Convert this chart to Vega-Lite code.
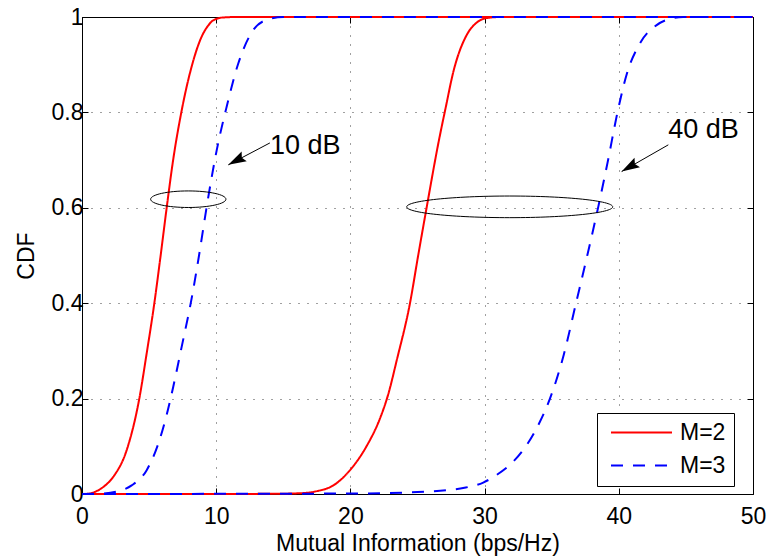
{
  "$schema": "https://vega.github.io/schema/vega-lite/v6.json",
  "width": 671,
  "height": 477,
  "autosize": "none",
  "padding": {"left": 82, "top": 17, "right": 16, "bottom": 62},
  "background": "white",
  "config": {
    "font": "Liberation Sans",
    "view": {"stroke": "black", "strokeWidth": 1},
    "axis": {
      "domain": false,
      "labelFlush": false,
      "tickColor": "black",
      "tickSize": -6,
      "tickWidth": 1,
      "labelColor": "black",
      "labelFontSize": 23,
      "titleColor": "black",
      "titleFontSize": 23,
      "titleFontWeight": "normal",
      "gridColor": "black",
      "gridDash": [1, 8],
      "gridOpacity": 0.75,
      "gridWidth": 1
    }
  },
  "datasets": {
    "curves": [
      {"M": "M=2", "snr": "10 dB", "x": 0, "y": 0},
      {"M": "M=2", "snr": "10 dB", "x": 0.5, "y": 0.0005},
      {"M": "M=2", "snr": "10 dB", "x": 0.84, "y": 0.003},
      {"M": "M=2", "snr": "10 dB", "x": 1.5, "y": 0.013},
      {"M": "M=2", "snr": "10 dB", "x": 2.33, "y": 0.036},
      {"M": "M=2", "snr": "10 dB", "x": 3.33, "y": 0.092},
      {"M": "M=2", "snr": "10 dB", "x": 4.27, "y": 0.2},
      {"M": "M=2", "snr": "10 dB", "x": 4.82, "y": 0.295},
      {"M": "M=2", "snr": "10 dB", "x": 5.39, "y": 0.4},
      {"M": "M=2", "snr": "10 dB", "x": 5.86, "y": 0.5},
      {"M": "M=2", "snr": "10 dB", "x": 6.31, "y": 0.6},
      {"M": "M=2", "snr": "10 dB", "x": 6.79, "y": 0.7},
      {"M": "M=2", "snr": "10 dB", "x": 7.4, "y": 0.8},
      {"M": "M=2", "snr": "10 dB", "x": 8.17, "y": 0.896},
      {"M": "M=2", "snr": "10 dB", "x": 8.92, "y": 0.959},
      {"M": "M=2", "snr": "10 dB", "x": 9.4, "y": 0.982},
      {"M": "M=2", "snr": "10 dB", "x": 9.78, "y": 0.993},
      {"M": "M=2", "snr": "10 dB", "x": 10.5, "y": 0.999},
      {"M": "M=2", "snr": "10 dB", "x": 11.5, "y": 1},
      {"M": "M=2", "snr": "10 dB", "x": 50, "y": 1},
      {"M": "M=2", "snr": "40 dB", "x": 0, "y": 0},
      {"M": "M=2", "snr": "40 dB", "x": 14, "y": 0.0003},
      {"M": "M=2", "snr": "40 dB", "x": 16.2, "y": 0.0015},
      {"M": "M=2", "snr": "40 dB", "x": 17.5, "y": 0.006},
      {"M": "M=2", "snr": "40 dB", "x": 18.73, "y": 0.018},
      {"M": "M=2", "snr": "40 dB", "x": 19.97, "y": 0.05},
      {"M": "M=2", "snr": "40 dB", "x": 21.2, "y": 0.1},
      {"M": "M=2", "snr": "40 dB", "x": 22.2, "y": 0.158},
      {"M": "M=2", "snr": "40 dB", "x": 22.83, "y": 0.21},
      {"M": "M=2", "snr": "40 dB", "x": 23.45, "y": 0.28},
      {"M": "M=2", "snr": "40 dB", "x": 24.44, "y": 0.4},
      {"M": "M=2", "snr": "40 dB", "x": 25.05, "y": 0.5},
      {"M": "M=2", "snr": "40 dB", "x": 25.69, "y": 0.602},
      {"M": "M=2", "snr": "40 dB", "x": 26.6, "y": 0.742},
      {"M": "M=2", "snr": "40 dB", "x": 27.1, "y": 0.81},
      {"M": "M=2", "snr": "40 dB", "x": 27.67, "y": 0.885},
      {"M": "M=2", "snr": "40 dB", "x": 28.66, "y": 0.962},
      {"M": "M=2", "snr": "40 dB", "x": 29.4, "y": 0.988},
      {"M": "M=2", "snr": "40 dB", "x": 30.2, "y": 0.998},
      {"M": "M=2", "snr": "40 dB", "x": 31.2, "y": 1},
      {"M": "M=2", "snr": "40 dB", "x": 50, "y": 1},
      {"M": "M=3", "snr": "10 dB", "x": 0, "y": 0},
      {"M": "M=3", "snr": "10 dB", "x": 1.5, "y": 0.001},
      {"M": "M=3", "snr": "10 dB", "x": 2.58, "y": 0.005},
      {"M": "M=3", "snr": "10 dB", "x": 3.7, "y": 0.018},
      {"M": "M=3", "snr": "10 dB", "x": 4.82, "y": 0.05},
      {"M": "M=3", "snr": "10 dB", "x": 5.69, "y": 0.106},
      {"M": "M=3", "snr": "10 dB", "x": 6.31, "y": 0.166},
      {"M": "M=3", "snr": "10 dB", "x": 6.8, "y": 0.225},
      {"M": "M=3", "snr": "10 dB", "x": 7.43, "y": 0.309},
      {"M": "M=3", "snr": "10 dB", "x": 8.17, "y": 0.41},
      {"M": "M=3", "snr": "10 dB", "x": 8.72, "y": 0.5},
      {"M": "M=3", "snr": "10 dB", "x": 9.29, "y": 0.602},
      {"M": "M=3", "snr": "10 dB", "x": 10.04, "y": 0.721},
      {"M": "M=3", "snr": "10 dB", "x": 10.78, "y": 0.812},
      {"M": "M=3", "snr": "10 dB", "x": 11.65, "y": 0.903},
      {"M": "M=3", "snr": "10 dB", "x": 12.77, "y": 0.973},
      {"M": "M=3", "snr": "10 dB", "x": 13.76, "y": 0.994},
      {"M": "M=3", "snr": "10 dB", "x": 15, "y": 1},
      {"M": "M=3", "snr": "10 dB", "x": 50, "y": 1},
      {"M": "M=3", "snr": "40 dB", "x": 0, "y": 0},
      {"M": "M=3", "snr": "40 dB", "x": 20, "y": 0.001},
      {"M": "M=3", "snr": "40 dB", "x": 25, "y": 0.004},
      {"M": "M=3", "snr": "40 dB", "x": 27.17, "y": 0.008},
      {"M": "M=3", "snr": "40 dB", "x": 28.5, "y": 0.013},
      {"M": "M=3", "snr": "40 dB", "x": 29.9, "y": 0.024},
      {"M": "M=3", "snr": "40 dB", "x": 30.9, "y": 0.04},
      {"M": "M=3", "snr": "40 dB", "x": 32.14, "y": 0.068},
      {"M": "M=3", "snr": "40 dB", "x": 33.26, "y": 0.108},
      {"M": "M=3", "snr": "40 dB", "x": 34.13, "y": 0.152},
      {"M": "M=3", "snr": "40 dB", "x": 34.87, "y": 0.2},
      {"M": "M=3", "snr": "40 dB", "x": 35.9, "y": 0.292},
      {"M": "M=3", "snr": "40 dB", "x": 36.81, "y": 0.4},
      {"M": "M=3", "snr": "40 dB", "x": 37.65, "y": 0.5},
      {"M": "M=3", "snr": "40 dB", "x": 38.47, "y": 0.602},
      {"M": "M=3", "snr": "40 dB", "x": 39.2, "y": 0.7},
      {"M": "M=3", "snr": "40 dB", "x": 39.9, "y": 0.8},
      {"M": "M=3", "snr": "40 dB", "x": 40.59, "y": 0.88},
      {"M": "M=3", "snr": "40 dB", "x": 41.58, "y": 0.945},
      {"M": "M=3", "snr": "40 dB", "x": 42.82, "y": 0.983},
      {"M": "M=3", "snr": "40 dB", "x": 43.8, "y": 0.996},
      {"M": "M=3", "snr": "40 dB", "x": 44.8, "y": 1},
      {"M": "M=3", "snr": "40 dB", "x": 50, "y": 1}
    ],
    "arrows": [
      {"x": 14.0, "y": 0.736, "x2": 10.9, "y2": 0.69},
      {"x": 43.69, "y": 0.732, "x2": 40.21, "y2": 0.676}
    ],
    "labels": [
      {"label": "10 dB", "x": 14.01, "y": 0.7125},
      {"label": "40 dB", "x": 43.69, "y": 0.7457}
    ]
  },
  "layer": [
    {
      "layer": [
        {
          "data": {"name": "curves"},
          "mark": {"type": "line", "strokeWidth": 2, "interpolate": "monotone"},
          "encoding": {
            "x": {
              "field": "x", "type": "quantitative",
              "scale": {"domain": [0, 50], "nice": false, "zero": false},
              "axis": {"values": [0, 10, 20, 30, 40, 50], "grid": true, "labelPadding": 17, "title": "Mutual Information (bps/Hz)", "titlePadding": 4}
            },
            "y": {
              "field": "y", "type": "quantitative",
              "scale": {"domain": [0, 1], "nice": false},
              "axis": {"values": [0, 0.2, 0.4, 0.6, 0.8, 1], "format": "~g", "grid": true, "labelPadding": 5, "title": "CDF", "titlePadding": 13}
            },
            "color": {
              "field": "M", "type": "nominal",
              "scale": {"domain": ["M=2", "M=3"], "range": ["#ff0000", "#0000ff"]},
              "legend": {
                "title": null,
                "orient": "none",
                "legendX": 515,
                "legendY": 396,
                "direction": "vertical",
                "strokeColor": "black",
                "fillColor": "white",
                "padding": 8,
                "symbolType": "stroke",
                "symbolSize": 3721,
                "symbolStrokeWidth": 2,
                "symbolOffset": 5,
                "clipHeight": 23,
                "rowPadding": 9,
                "labelFontSize": 23,
                "labelColor": "black",
                "labelOffset": 7
              }
            },
            "strokeDash": {
              "field": "M", "type": "nominal",
              "scale": {"domain": ["M=2", "M=3"], "range": [[1, 0], [12, 10]]},
              "legend": {
                "title": null,
                "orient": "none",
                "legendX": 515,
                "legendY": 396,
                "direction": "vertical",
                "strokeColor": "black",
                "fillColor": "white",
                "padding": 8,
                "symbolType": "stroke",
                "symbolSize": 3721,
                "symbolStrokeWidth": 2,
                "symbolOffset": 5,
                "clipHeight": 23,
                "rowPadding": 9,
                "labelFontSize": 23,
                "labelColor": "black",
                "labelOffset": 7
              }
            },
            "detail": {"field": "snr", "type": "nominal"}
          }
        },
        {
          "data": {"values": [{"x": 7.92, "y": 0.618}]},
          "mark": {"type": "point", "shape": "M-1,0C-1,-0.121,-0.552,-0.22,0,-0.22C0.552,-0.22,1,-0.121,1,0C1,0.121,0.552,0.22,0,0.22C-0.552,0.22,-1,0.121,-1,0Z", "size": 5670, "filled": false, "stroke": "black", "strokeWidth": 1, "opacity": 1},
          "encoding": {
            "x": {"field": "x", "type": "quantitative"},
            "y": {"field": "y", "type": "quantitative"}
          }
        },
        {
          "data": {"values": [{"x": 31.87, "y": 0.602}]},
          "mark": {"type": "point", "shape": "M-1,0C-1,-0.058,-0.552,-0.105,0,-0.105C0.552,-0.105,1,-0.058,1,0C1,0.058,0.552,0.105,0,0.105C-0.552,0.105,-1,0.058,-1,0Z", "size": 42436, "filled": false, "stroke": "black", "strokeWidth": 1, "opacity": 1},
          "encoding": {
            "x": {"field": "x", "type": "quantitative"},
            "y": {"field": "y", "type": "quantitative"}
          }
        },
        {
          "data": {"name": "arrows"},
          "mark": {"type": "rule", "color": "black", "strokeWidth": 1},
          "encoding": {
            "x": {"field": "x", "type": "quantitative"},
            "y": {"field": "y", "type": "quantitative"},
            "x2": {"field": "x2"},
            "y2": {"field": "y2"}
          }
        },
        {
          "data": {"values": [{"x": 10.9, "y": 0.69}]},
          "mark": {"type": "point", "shape": "M0,0L-2,-0.61L-1.7,0L-2,0.61Z", "size": 324, "filled": true, "color": "black", "opacity": 1, "angle": 152.2},
          "encoding": {
            "x": {"field": "x", "type": "quantitative"},
            "y": {"field": "y", "type": "quantitative"}
          }
        },
        {
          "data": {"values": [{"x": 40.21, "y": 0.676}]},
          "mark": {"type": "point", "shape": "M0,0L-2,-0.61L-1.7,0L-2,0.61Z", "size": 324, "filled": true, "color": "black", "opacity": 1, "angle": 150.2},
          "encoding": {
            "x": {"field": "x", "type": "quantitative"},
            "y": {"field": "y", "type": "quantitative"}
          }
        },
        {
          "data": {"name": "labels"},
          "mark": {"type": "text", "align": "left", "baseline": "alphabetic", "fontSize": 27, "color": "black"},
          "encoding": {
            "x": {"field": "x", "type": "quantitative"},
            "y": {"field": "y", "type": "quantitative"},
            "text": {"field": "label", "type": "nominal"}
          }
        }
      ]
    },
    {
      "data": {"values": [{"x": 0, "y": 0}]},
      "mark": {"type": "point", "opacity": 0},
      "encoding": {
        "x": {
          "field": "x", "type": "quantitative",
          "scale": {"domain": [0, 50], "nice": false, "zero": false},
          "axis": {"orient": "top", "values": [0, 10, 20, 30, 40, 50], "labels": false, "grid": false, "title": null}
        },
        "y": {
          "field": "y", "type": "quantitative",
          "scale": {"domain": [0, 1], "nice": false},
          "axis": {"orient": "right", "values": [0, 0.2, 0.4, 0.6, 0.8, 1], "labels": false, "grid": false, "title": null}
        }
      }
    }
  ],
  "resolve": {"scale": {"x": "independent", "y": "independent"}}
}
